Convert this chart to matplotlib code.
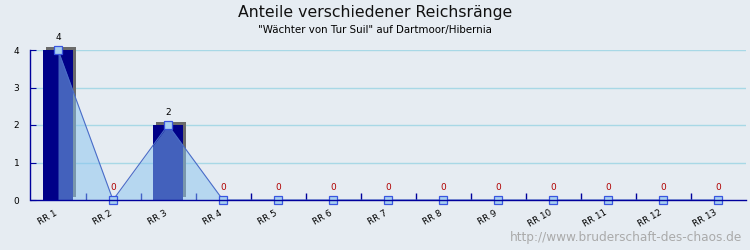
import matplotlib
matplotlib.use("Agg")
import matplotlib.pyplot as plt
import matplotlib.transforms as mtransforms
import numpy as np

categories = ["RR 1", "RR 2", "RR 3", "RR 4", "RR 5", "RR 6", "RR 7",
              "RR 8", "RR 9", "RR 10", "RR 11", "RR 12", "RR 13"]
values = [4, 0, 2, 0, 0, 0, 0, 0, 0, 0, 0, 0, 0]
yticks = [0, 1, 2, 3, 4]
title = "Anteile verschiedener Reichsränge"
subtitle = "\"Wächter von Tur Suil\" auf Dartmoor/Hibernia"
watermark = "http://www.bruderschaft-des-chaos.de"

bg = "#e6ecf2"
axis_col = "#00009c"

fig = plt.figure(figsize=(7.5, 2.5), dpi=100, facecolor=bg)
ax = fig.add_axes([30.5 / 750, 0.2, 715 / 750, 0.6])
ax.set_facecolor(bg)

x = np.arange(len(categories))
ax.set_xlim(-0.5, len(categories) - 0.5)
ax.set_ylim(0, 4)

# grid
for yv in yticks[1:]:
    ax.axhline(yv, color="#a8d8e6", lw=1.0, zorder=0)

# bar shadows
shadow_tr = ax.transData + mtransforms.ScaledTranslation(3 / 100, 3 / 100, fig.dpi_scale_trans)
ax.bar(x, values, width=0.53, color="#6b6b6b", transform=shadow_tr, zorder=1, clip_on=False)
ax.bar(x, values, width=0.53, color="#000088", zorder=2, clip_on=False)

# area overlay
ax.fill_between(x, values, 0, color="#87c3f0", alpha=0.5, lw=0, zorder=3)
ax.plot(x, values, color="#4a6cc8", lw=0.8, zorder=4, clip_on=False)
ax.plot(x, values, ls="none", marker="s", ms=5.5, mfc="#a8d0f0", mec="#3a55e0",
        mew=0.9, zorder=5, clip_on=False)

# value labels
for xi, v in zip(x, values):
    ax.annotate(str(v), (xi, v), xytext=(0, 6), textcoords="offset points",
                ha="center", va="bottom", fontsize=6.5,
                color="#000000" if v > 0 else "#b00000", zorder=6,
                annotation_clip=False)

# axes styling
for s in ["top", "right"]:
    ax.spines[s].set_visible(False)
for s in ["left", "bottom"]:
    ax.spines[s].set_color(axis_col)
    ax.spines[s].set_linewidth(1.0)
    ax.spines[s].set_zorder(7)

ax.set_yticks(yticks)
ax.set_yticklabels([str(t) for t in yticks], fontsize=6.5)
ax.tick_params(axis="y", direction="in", length=4, color=axis_col, pad=8)

ax.set_xticks(x[:-1] + 0.5, minor=False)
ax.set_xticklabels([])
ax.tick_params(axis="x", direction="in", length=5, color=axis_col, width=1.0)
ax.set_xticks(x, minor=True)
ax.set_xticklabels(categories, minor=True, rotation=30, ha="right",
                   rotation_mode="anchor", fontsize=6.3)
ax.tick_params(axis="x", which="minor", length=0, pad=6)
shift = mtransforms.ScaledTranslation(-4 / 100, 0, fig.dpi_scale_trans)
for lbl in ax.get_xticklabels(minor=True):
    lbl.set_transform(lbl.get_transform() + shift)
ax.set_xlim(-0.5, len(categories) - 0.5)

fig.text(0.5, 1 - 12 / 250, title, ha="center", va="center", fontsize=11.3, color="#111111")
fig.text(0.5, 1 - 30 / 250, subtitle, ha="center", va="center", fontsize=7.4, color="#000000")
fig.text(742 / 750, 1 - 238 / 250, watermark, ha="right", va="center", fontsize=8.7, color="#aaaaaa")

fig.savefig("out.png", dpi=100, facecolor=bg)
